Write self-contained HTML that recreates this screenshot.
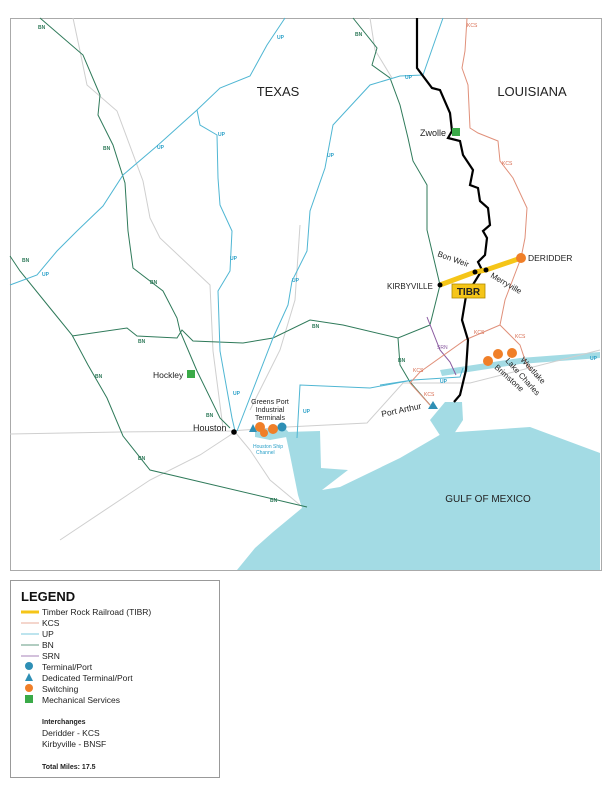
<!DOCTYPE html>
<html><head><meta charset="utf-8"><style>
html,body{margin:0;padding:0;background:#fff;}
body{width:612px;height:792px;position:relative;overflow:hidden;font-family:"Liberation Sans",sans-serif;}
svg{position:absolute;left:0;top:0;}
</style></head><body>
<svg width="612" height="792" viewBox="0 0 612 792" xmlns="http://www.w3.org/2000/svg" font-family="Liberation Sans, sans-serif">
<rect x="10.5" y="18.5" width="591" height="552" fill="#fff" stroke="#aaa" stroke-width="1"/>
<!-- water -->
<g fill="#a3dbe4">
<polygon points="285,432 320,431 321,468 348,470 322,490 340,487 400,458 443,433 530,427 600,453 600,570 237,570 255,548 273,532 302,508 298,495 290,455"/>
<polygon points="430,420 445,402 462,402 463,420 450,440 443,440"/>
<polygon points="255,428 285,428 292,436 270,440 255,437"/>
<polygon points="440,370 520,358 600,352 600,358 520,364 442,376"/>
</g>
<!-- highways gray -->
<g fill="none" stroke="#cfcfcf" stroke-width="1">
<polyline points="73,18 80,51 87,85 117,111 143,181 150,218 160,238 210,285 213,351 223,428"/>
<polyline points="10,434 120,432 230,431 287,427 367,423 403,383 470,383 600,350"/>
<polyline points="235,432 250,450 270,480 300,505"/>
<polyline points="235,432 200,455 150,480 60,540"/>
<polyline points="370,18 375,50 392,78"/>
<polyline points="300,225 295,300 280,350 250,410"/>
</g>
<!-- BN -->
<g fill="none" stroke="#2f7a5a" stroke-width="1">
<polyline points="40,18 83,55 100,95 98,115 113,145 125,183 128,231 133,268 163,291 177,318 180,331 197,371 220,418 230,428"/>
<polyline points="10,256 20,271 50,308 72,335 88,365 107,398 123,436 150,470 307,507"/>
<polyline points="72,336 127,328 137,336 177,338 182,330 193,341 243,343 273,338 310,320 343,325 398,338 430,325 440,285"/>
<polyline points="353,18 377,48 372,65 390,78 400,105 408,138 413,161 427,185 427,230 440,285"/>
<polyline points="398,338 400,365 410,382 430,405"/>
</g>
<!-- UP -->
<g fill="none" stroke="#4fb6d3" stroke-width="1">
<polyline points="285,18 267,45 250,76 220,88 197,110 157,146 123,175 103,206 77,231 57,251 37,275 10,285"/>
<polyline points="197,110 200,125 217,135 218,178 220,205 232,231 230,271 218,291 220,351 232,418 235,431"/>
<polyline points="443,18 437,35 423,75 400,76 370,85 333,125 325,168 310,211 307,251 292,281 288,305 273,338 237,431"/>
<polyline points="297,438 300,385 370,388 413,380 460,377 463,368"/>
<polyline points="380,385 413,380"/>
</g>
<!-- SRN -->
<polyline points="427,317 440,350 450,362 456,375" fill="none" stroke="#8a5aa0" stroke-width="1"/>
<!-- KCS -->
<g fill="none" stroke="#e0907a" stroke-width="1">
<polyline points="467,18 465,51 462,68 468,85 470,128 478,133 498,141 500,161 513,178 527,208 525,238 521,258 505,300 500,325 465,340 420,372 410,383 430,405"/>
<polyline points="500,325 520,345 525,360 530,370"/>
</g>
<!-- black line -->
<polyline points="417,18 417,68 432,88 440,90 450,113 452,131 448,138 460,141 463,155 473,170 470,185 478,188 480,201 488,208 490,225 483,231 487,238 485,255 478,262 482,270 466,296 462,320 468,340 466,370 460,395 454,402" fill="none" stroke="#000" stroke-width="2.2"/>
<!-- TIBR -->
<polyline points="440,285 475,272 486,270 521,258" fill="none" stroke="#f5c518" stroke-width="5"/>
<rect x="452" y="284" width="33" height="14" fill="#f5c518" stroke="#b08a00" stroke-width="0.8"/>
<text x="468.5" y="295" font-size="10" font-weight="bold" text-anchor="middle" fill="#222">TIBR</text>
<g fill="#000"><circle cx="440" cy="285" r="2.5"/><circle cx="475" cy="272" r="2.5"/><circle cx="486" cy="270" r="2.5"/><circle cx="234" cy="432" r="2.8"/></g>
<g fill="#f07f28"><circle cx="521" cy="258" r="5"/><circle cx="488" cy="361" r="5"/><circle cx="498" cy="354" r="5"/><circle cx="512" cy="353" r="5"/>
<circle cx="260" cy="427" r="5"/><circle cx="264" cy="433" r="4"/><circle cx="273" cy="429" r="5"/></g>
<circle cx="282" cy="427" r="4.5" fill="#2e8fb5"/>
<polygon points="249,432 253,424 257,432" fill="#2e8fb5"/>
<polygon points="428,409 433,401 438,409" fill="#2e8fb5"/>
<rect x="452" y="128" width="8" height="8" fill="#3aaa48"/>
<rect x="187" y="370" width="8" height="8" fill="#3aaa48"/>
<!-- labels -->
<g fill="#222">
<text x="278" y="96" font-size="13" text-anchor="middle">TEXAS</text>
<text x="532" y="96" font-size="13" text-anchor="middle">LOUISIANA</text>
<text x="488" y="502" font-size="10" text-anchor="middle">GULF OF MEXICO</text>
<text x="420" y="136" font-size="9">Zwolle</text>
<text x="153" y="378" font-size="8.5">Hockley</text>
<text x="193" y="431" font-size="9">Houston</text>
<text x="270" y="404" font-size="7" text-anchor="middle">Greens Port</text>
<text x="270" y="412" font-size="7" text-anchor="middle">Industrial</text>
<text x="270" y="420" font-size="7" text-anchor="middle">Terminals</text>
<text x="387" y="289" font-size="8">KIRBYVILLE</text>
<text x="528" y="261" font-size="8.5">DERIDDER</text>
<text x="437" y="256" font-size="8" transform="rotate(20 437 256)">Bon Weir</text>
<text x="490" y="277" font-size="8" transform="rotate(30 490 277)">Merryville</text>
<text x="382" y="417" font-size="8.5" transform="rotate(-12 382 417)">Port Arthur</text>
<text x="494" y="368" font-size="8" transform="rotate(42 494 368)">Brimstone</text>
<text x="505" y="361" font-size="8" transform="rotate(48 505 361)">Lake Charles</text>
<text x="520" y="360" font-size="8" transform="rotate(48 520 360)">Westlake</text>
</g>
<g font-size="5" font-weight="bold" fill="#2f7a5a">
<text x="38" y="29">BN</text><text x="103" y="150">BN</text><text x="150" y="284">BN</text><text x="22" y="262">BN</text>
<text x="95" y="378">BN</text><text x="138" y="343">BN</text><text x="206" y="417">BN</text><text x="138" y="460">BN</text>
<text x="270" y="502">BN</text><text x="312" y="328">BN</text><text x="398" y="362">BN</text><text x="355" y="36">BN</text>
</g>
<g font-size="5" font-weight="bold" fill="#2aa0c8">
<text x="277" y="39">UP</text><text x="157" y="149">UP</text><text x="218" y="136">UP</text><text x="42" y="276">UP</text>
<text x="230" y="260">UP</text><text x="327" y="157">UP</text><text x="292" y="282">UP</text><text x="233" y="395">UP</text>
<text x="303" y="413">UP</text><text x="405" y="79">UP</text><text x="440" y="383">UP</text><text x="590" y="360">UP</text>
</g>
<g font-size="5" fill="#d86a4e"><text x="467" y="27">KCS</text><text x="502" y="165">KCS</text><text x="515" y="338">KCS</text><text x="474" y="334">KCS</text><text x="413" y="372">KCS</text><text x="424" y="396">KCS</text></g>
<text x="437" y="349" font-size="5" fill="#8a5aa0">SRN</text>
<text x="253" y="448" font-size="5" fill="#2aa0c8">Houston Ship</text>
<text x="256" y="454" font-size="5" fill="#2aa0c8">Channel</text>
<!-- legend -->
<rect x="10.5" y="580.5" width="209" height="197" fill="#fff" stroke="#999" stroke-width="1"/>
<text x="21" y="601" font-size="13" font-weight="bold" fill="#111">LEGEND</text>
<line x1="21" y1="612" x2="39" y2="612" stroke="#f5c518" stroke-width="3"/>
<line x1="21" y1="623" x2="39" y2="623" stroke="#e0907a" stroke-width="0.8"/>
<line x1="21" y1="634" x2="39" y2="634" stroke="#4fb6d3" stroke-width="0.8"/>
<line x1="21" y1="645" x2="39" y2="645" stroke="#2f7a5a" stroke-width="0.8"/>
<line x1="21" y1="656" x2="39" y2="656" stroke="#8a5aa0" stroke-width="0.8"/>
<circle cx="29" cy="666" r="4" fill="#2e8fb5"/>
<polygon points="25,681 29,673 33,681" fill="#2e8fb5"/>
<circle cx="29" cy="688" r="4" fill="#f07f28"/>
<rect x="25" y="695" width="8" height="8" fill="#3aaa48"/>
<g font-size="8.5" fill="#222">
<text x="42" y="615">Timber Rock Railroad (TIBR)</text>
<text x="42" y="626">KCS</text><text x="42" y="637">UP</text><text x="42" y="648">BN</text><text x="42" y="659">SRN</text>
<text x="42" y="670">Terminal/Port</text><text x="42" y="681">Dedicated Terminal/Port</text>
<text x="42" y="692">Switching</text><text x="42" y="703">Mechanical Services</text>
<text x="42" y="724" font-size="7" font-weight="bold">Interchanges</text>
<text x="42" y="736">Deridder - KCS</text><text x="42" y="747">Kirbyville - BNSF</text>
<text x="42" y="769" font-size="7" font-weight="bold">Total Miles: 17.5</text>
</g>
</svg>
</body></html>
